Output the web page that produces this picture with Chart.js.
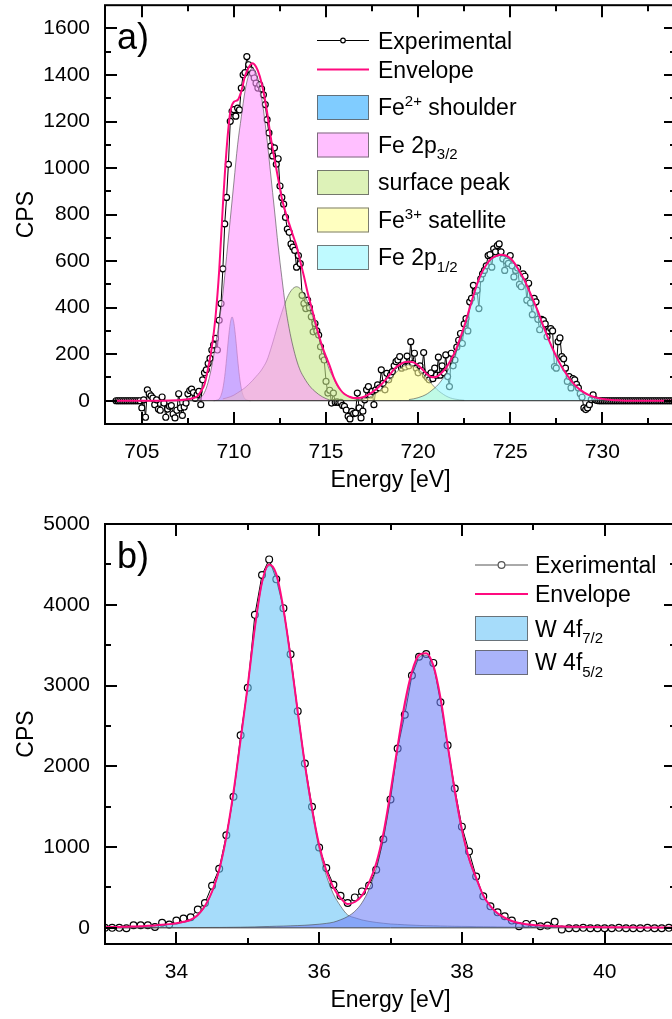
<!DOCTYPE html>
<html>
<head>
<meta charset="utf-8">
<title>XPS Fe 2p and W 4f</title>
<script src="https://cdn.jsdelivr.net/npm/chart.js@4.4.1/dist/chart.umd.min.js"></script>
<style>
  html, body { margin: 0; padding: 0; background: #fff; overflow: hidden; }
  body { width: 672px; height: 1019px; position: relative; }
  canvas { position: absolute; left: 0; }
  #chartA { top: 0; }
  #chartB { top: 500px; }
</style>
</head>
<body>
<canvas id="chartA" width="690" height="500"></canvas>
<canvas id="chartB" width="690" height="519"></canvas>
<script>
// ---------- panel a) Fe 2p ----------
const aExpStart = 703.6;
const aExpStep = 0.1;
const aExpCps = [
  0, 0, 0, 0, 0, 0, 0, 0, 0, 0, 0, 0, 0, 0,
  -31, 4, -71, 47, 30, 21, 11, -17, 4, -36,
  -41, 16, -10, -71, -36, -24, -21, -57, -74, -41,
  30, -31, -63, -27, -10, 30, 44, 50, 35, 10,
  26, 40, -17, 90, 120, 133, 160, 182, 218, 240,
  268, 218, 346, 418, 567, 760, 874, 1016, 1201, 1244,
  1251, 1223, 1258, 1250, 1344, 1401, 1410, 1479, 1444, 1422,
  1408, 1387, 1365, 1344, 1358, 1340, 1315, 1273, 1208, 1151,
  1094, 1052, 1087, 1016, 1040, 923, 874, 845, 788, 738,
  724, 674, 660, 646, 574, 624, 589, 453, 418, 396,
  432, 400, 361, 296, 332, 300, 282, 232, 189, 175,
  83, 33, 45, -10, 33, -7, -5, -8, -7, -20,
  -24, -40, -67, -78, -46, -55, -53, 33, -31, -74,
  -45, 4, 47, 61, 25, 40, -17, 47, 68, 55,
  133, 75, 47, 118, 90, 110, 125, 150, 168, 175,
  190, 140, 150, 145, 192, 150, 254, 160, 204, 140,
  120, 150, 130, 207, 110, 100, 90, 120, 95, 140,
  110, 187, 110, 150, 120, 197, 104, 61, 204, 150,
  175, 230, 260, 289, 246, 330, 353, 300, 425, 440,
  496, 470, 475, 396, 524, 545, 560, 580, 624, 628,
  574, 653, 640, 667, 674, 640, 610, 560, 600, 590,
  624, 580, 532, 560, 570, 500, 490, 545, 535, 432,
  505, 420, 370, 440, 425, 350, 305, 350, 345, 330,
  275, 300, 310, 300, 147, 140, 254, 270, 190, 180,
  140, 83, 104, 55, 95, 90, 70, 55, 30, 15,
  -31, -38, -31, -17, 5, 25, 5, 1, 0, 0,
  0, 0, 0, 0, 0, 0, 0, 0, 0, 0,
  0, 0, 0, 0, 0, 0, 0, 0, 0, 0,
  0, 0, 0, 0, 0, 0, 0, 0, 0, 0,
  0, 0, 0, 0, 0, 0, 0, 0, 0, 0,
  0
];

const aEnvEnergy = [
  703.6, 706.0, 707.0, 707.4, 707.8,
  708.0, 708.2, 708.4, 708.6, 708.8, 709.0, 709.2, 709.4, 709.6, 709.8,
  710.0, 710.2, 710.4, 710.6, 710.8, 711.0, 711.2, 711.4, 711.6, 711.8,
  712.0, 712.2, 712.4, 712.6, 712.8, 713.0, 713.2, 713.4, 713.6, 713.8,
  714.0, 714.2, 714.4, 714.6, 714.8, 715.0, 715.2, 715.4, 715.6, 715.8,
  716.0, 716.25, 716.5, 716.75, 717.0, 717.25, 717.5, 717.75,
  718.0, 718.25, 718.5, 718.75, 719.0, 719.25, 719.5, 719.75,
  720.0, 720.25, 720.5, 720.75, 721.0, 721.25, 721.5, 721.75,
  722.0, 722.25, 722.5, 722.75, 723.0, 723.25, 723.5, 723.75,
  724.0, 724.25, 724.5, 724.75, 725.0, 725.25, 725.5, 725.75,
  726.0, 726.25, 726.5, 726.75, 727.0, 727.25, 727.5, 727.75,
  728.0, 728.25, 728.5, 728.75, 729.0, 729.25, 729.5, 729.75,
  730.0, 730.25, 730.5, 730.75, 731.0, 731.5, 734.0
];
const aEnvCps = [
  0, 0, 2, 5, 12,
  18, 40, 70, 140, 230, 360, 560, 840, 1080, 1240,
  1285, 1292, 1330, 1395, 1432, 1450, 1435, 1395, 1330, 1240,
  1132, 1040, 955, 870, 810, 760, 712, 665, 600, 535,
  465, 405, 345, 285, 232, 190, 150, 104, 70, 45,
  29, 18, 12, 12, 15, 24, 36, 52,
  70, 92, 116, 140, 155, 166, 168, 165,
  152, 133, 113, 101, 103, 118, 140, 172,
  210, 262, 320, 385, 452, 512, 557, 590,
  612, 622, 627, 624, 612, 589, 557, 522,
  478, 432, 385, 330, 280, 233, 190, 152,
  120, 92, 68, 50, 36, 25, 17, 12,
  8, 5, 3, 2, 1, 0, 0
];

const aBaseEnergy = [703.6, 734.0];
const aBaseCps = [0, 0];

// fitted components
const aShoulderStart = 708.9, aShoulderStep = 0.1;
const aShoulderCps = [0, 1, 3, 8, 23, 53, 105, 180, 265, 333, 360, 333, 265, 180, 105, 53, 23, 8, 3, 1, 0];

const aP32Start = 708.0, aP32Step = 0.2;
const aP32Cps = [
  5, 14, 35, 80, 150, 240, 340, 460, 620, 780,
  940, 1100, 1220, 1330, 1400, 1430, 1410, 1350, 1250, 1120,
  970, 820, 665, 530, 405, 310, 235, 175, 130, 100,
  75, 55, 40, 27, 17, 9, 3, 0
];

const aSurfStart = 709.4, aSurfStep = 0.2;
const aSurfCps = [
  8, 12, 17, 24, 34, 44, 56, 70, 86, 104,
  122, 145, 175, 222, 275, 330, 380, 425, 460, 482,
  490,
  482, 460, 425, 380, 330, 275, 222, 175, 130, 100,
  65, 45, 30, 20, 13, 8, 4, 2, 0
];

const aSatStart = 716.5, aSatStep = 0.25;
const aSatCps = [2, 4, 7, 12, 21, 34, 50, 71, 94, 117, 137, 150, 155, 150, 137, 117, 94, 71, 50, 34, 21, 12, 7, 4, 2];

const aP12Start = 719.5, aP12Step = 0.25;
const aP12Cps = [
  5, 8, 13, 20, 30, 45, 62, 85, 115, 150,
  195, 250, 310, 380, 450, 510, 556, 590, 610, 620,
  625, 622, 610, 588, 557, 522, 478, 432, 385, 330,
  280, 233, 190, 152, 120, 92, 68, 50, 36, 25,
  17, 12, 8, 5, 3, 2, 1, 0
];

const aXMajor = [705, 710, 715, 720, 725, 730];
const aXMinor = [707.5, 712.5, 717.5, 722.5, 727.5, 732.5];
const aYMajor = [0, 200, 400, 600, 800, 1000, 1200, 1400, 1600];
const aYMinor = [100, 300, 500, 700, 900, 1100, 1300, 1500];

// ---------- panel b) W 4f ----------
const bExpStart = 33.0;
const bExpStep = 0.1;
const bExpCps = [
  0, 0, 0, -5, 32, 32, 32, 11, 62, 40,
  90, 115, 131, 226, 308, 522, 731, 1147, 1623, 2383,
  2972, 3875, 4369, 4562, 4315, 3958, 3386, 2683, 2034, 1500,
  994, 740, 534, 398, 308, 377, 451, 525, 719, 1097,
  1590, 2219, 2638, 3123, 3357, 3390, 3280, 2794, 2260, 1726,
  1253, 945, 636, 390, 266, 192, 143, 90, 20, 49,
  49, 20, 28, 74, -21, -5, -5, 0, -5, -5,
  -5, -5, 0, -5, -5, -5, 0, -5, -5, 0,
  0
];
const bEnvCps = [
  8, 10, 12, 14, 17, 20, 25, 30, 37, 46,
  58, 75, 100, 160, 270, 450, 720, 1130, 1680, 2330,
  3000, 3720, 4280, 4500, 4380, 3950, 3350, 2680, 2030, 1480,
  1030, 710, 500, 370, 295, 320, 400, 560, 800, 1170,
  1680, 2250, 2780, 3170, 3380, 3400, 3250, 2850, 2270, 1700,
  1220, 860, 620, 400, 270, 180, 125, 85, 60, 45,
  36, 30, 25, 21, 18, 15, 13, 11, 10, 9,
  8, 7, 7, 6, 6, 5, 5, 5, 4, 4,
  4
];
const bW72Cps = [
  6, 8, 10, 12, 15, 18, 22, 27, 34, 42,
  53, 68, 93, 152, 262, 440, 708, 1115, 1662, 2322,
  2990, 3708, 4265, 4483, 4360, 3925, 3325, 2650, 2000, 1440,
  980, 650, 420, 270, 160, 125, 98, 80, 67, 57,
  48, 43, 38, 34, 30, 27, 25, 23, 21, 19,
  18, 17, 15, 14, 13, 12, 11, 10, 10, 9,
  8, 8, 7, 7, 7, 6, 6, 6, 5, 5,
  4, 4, 4, 4, 3, 3, 3, 3, 3, 2,
  2
];
const bW52Cps = [
  2, 2, 2, 2, 2, 2, 2, 3, 3, 3,
  3, 3, 4, 4, 4, 5, 5, 6, 7, 8,
  10, 12, 15, 17, 20, 22, 25, 28, 32, 38,
  45, 55, 70, 100, 140, 205, 310, 480, 735, 1110,
  1630, 2210, 2745, 3140, 3350, 3375, 3225, 2830, 2250, 1680,
  1200, 842, 600, 400, 265, 170, 115, 80, 55, 40,
  30, 25, 20, 17, 14, 12, 10, 9, 8, 7,
  6, 6, 5, 5, 4, 4, 4, 4, 3, 3,
  3
];
const bBaseEnergy = [33.0, 41.0];
const bBaseCps = [0, 0];

const bXMajor = [34, 36, 38, 40];
const bXMinor = [35, 37, 39];
const bYMajor = [0, 1000, 2000, 3000, 4000, 5000];
const bYMinor = [500, 1500, 2500, 3500, 4500];

// ---------- colours ----------
const FONT = '"Liberation Sans", Arial, Helvetica, sans-serif';
const ENVELOPE = '#ff0a7f';
const OUTLINE = 'rgba(70,70,70,0.75)';
const C_SHOULDER = 'rgba(43,170,255,0.6)';
const C_P32 = 'rgba(255,148,255,0.6)';
const C_SURF = 'rgba(198,233,137,0.6)';
const C_SAT = 'rgba(255,255,150,0.6)';
const C_P12 = 'rgba(148,247,255,0.6)';
const C_W72 = 'rgba(107,197,247,0.6)';
const C_W52 = 'rgba(113,130,247,0.6)';

Chart.defaults.font.family = FONT;
Chart.defaults.color = '#000';

const onGrid = (start, step, ys) => ys.map((y, i) => ({ x: +(start + i * step).toFixed(3), y }));
const paired = (xs, ys) => xs.map((x, i) => ({ x, y: ys[i] }));

function drawRich(ctx, x, y, parts) {
  let cx = x;
  parts.forEach(p => {
    const small = p.sup || p.sub;
    ctx.font = (small ? 15 : 23) + 'px ' + FONT;
    const dy = p.sup ? -9 : (p.sub ? 6.5 : 0);
    ctx.fillText(p.t, cx, y + dy);
    cx += ctx.measureText(p.t).width;
  });
}

// frame with inward ticks, axis titles, panel letter and legend
const decor = {
  id: 'decor',
  afterDraw(chart, args, o) {
    const { ctx, chartArea: a } = chart;
    const x = chart.scales.x, y = chart.scales.y;
    ctx.save();
    ctx.strokeStyle = '#000';
    ctx.lineWidth = 2;
    ctx.strokeRect(a.left, a.top, a.right - a.left, a.bottom - a.top);
    ctx.beginPath();
    const xt = (vals, len) => vals.forEach(v => {
      const px = Math.round(x.getPixelForValue(v));
      ctx.moveTo(px, a.bottom); ctx.lineTo(px, a.bottom - len);
      ctx.moveTo(px, a.top); ctx.lineTo(px, a.top + len);
    });
    const yt = (vals, len) => vals.forEach(v => {
      const py = Math.round(y.getPixelForValue(v));
      ctx.moveTo(a.left, py); ctx.lineTo(a.left + len, py);
      ctx.moveTo(a.right, py); ctx.lineTo(a.right - len, py);
    });
    xt(o.xMajor, 12); xt(o.xMinor, 6);
    yt(o.yMajor, 12); yt(o.yMinor, 6);
    ctx.stroke();

    // axis titles
    ctx.fillStyle = '#000';
    ctx.font = '23px ' + FONT;
    ctx.textAlign = 'center';
    ctx.textBaseline = 'alphabetic';
    ctx.fillText(o.xTitle, (a.left + a.right) / 2, a.bottom + 63);
    ctx.save();
    ctx.translate(33, (a.top + a.bottom) / 2);
    ctx.rotate(-Math.PI / 2);
    ctx.fillText(o.yTitle, 0, 0);
    ctx.restore();

    // panel letter
    ctx.textAlign = 'left';
    ctx.font = '36px ' + FONT;
    ctx.fillText(o.panel, 117, o.panelY);

    // legend
    const L = o.legend;
    L.items.forEach(it => {
      if (it.kind === 'line') {
        ctx.strokeStyle = it.color;
        ctx.lineWidth = it.width;
        ctx.beginPath();
        ctx.moveTo(L.x0, it.y); ctx.lineTo(L.x1, it.y);
        ctx.stroke();
        if (it.marker) {
          ctx.beginPath();
          ctx.arc((L.x0 + L.x1) / 2, it.y, it.marker, 0, Math.PI * 2);
          ctx.fillStyle = '#fff';
          ctx.fill();
          ctx.lineWidth = 1.2;
          ctx.stroke();
        }
      } else {
        ctx.fillStyle = it.color;
        ctx.fillRect(L.x0, it.top, L.x1 - L.x0, 25);
        ctx.strokeStyle = 'rgba(90,90,90,0.8)';
        ctx.lineWidth = 1;
        ctx.strokeRect(L.x0 + 0.5, it.top + 0.5, L.x1 - L.x0 - 1, 24);
      }
      ctx.fillStyle = '#000';
      drawRich(ctx, L.tx, it.base, it.parts);
    });
    ctx.restore();
  }
};

function fitted(label, data, color, order) {
  return {
    label, data, order,
    backgroundColor: color,
    borderColor: OUTLINE,
    borderWidth: 0.8,
    pointRadius: 0,
    fill: 'origin',
    cubicInterpolationMode: 'monotone'
  };
}

function scalesFor(xMin, xMax, xTicks, yMin, yMax, yTicks, xHeight) {
  return {
    x: {
      type: 'linear', min: xMin, max: xMax,
      grid: { display: false, drawTicks: false },
      border: { display: false },
      afterBuildTicks: s => { s.ticks = xTicks.map(v => ({ value: v })); },
      afterFit: s => { s.height = xHeight; s.paddingLeft = 0; s.paddingRight = 0; },
      ticks: { padding: 16, maxRotation: 0, autoSkip: false, font: { size: 21 }, callback: v => String(v) }
    },
    y: {
      min: yMin, max: yMax,
      grid: { display: false, drawTicks: false },
      border: { display: false },
      afterBuildTicks: s => { s.ticks = yTicks.map(v => ({ value: v })); },
      afterFit: s => { s.width = 105; s.paddingTop = 0; s.paddingBottom = 0; },
      ticks: { padding: 15, autoSkip: false, font: { size: 21 }, callback: v => String(v) }
    }
  };
}

// ---------- chart a ----------
new Chart(document.getElementById('chartA'), {
  type: 'line',
  data: {
    datasets: [
      { label: 'Envelope', data: paired(aEnvEnergy, aEnvCps), borderColor: ENVELOPE, borderWidth: 2, pointRadius: 0, cubicInterpolationMode: 'monotone', fill: false, order: 0 },
      { label: 'Background', data: paired(aBaseEnergy, aBaseCps), borderColor: '#222', borderWidth: 1, pointRadius: 0, fill: false, order: 1 },
      fitted('Fe 2p3/2', onGrid(aP32Start, aP32Step, aP32Cps), C_P32, 2),
      fitted('Fe 2p1/2', onGrid(aP12Start, aP12Step, aP12Cps), C_P12, 3),
      fitted('Fe3+ satellite', onGrid(aSatStart, aSatStep, aSatCps), C_SAT, 4),
      fitted('surface peak', onGrid(aSurfStart, aSurfStep, aSurfCps), C_SURF, 5),
      fitted('Fe2+ shoulder', onGrid(aShoulderStart, aShoulderStep, aShoulderCps), C_SHOULDER, 6),
      { label: 'Experimental', data: onGrid(aExpStart, aExpStep, aExpCps), borderColor: '#000', borderWidth: 1, pointRadius: 3, pointBorderWidth: 1.2, pointBackgroundColor: '#fff', pointBorderColor: '#000', fill: false, order: 7 }
    ]
  },
  options: {
    responsive: false,
    animation: false,
    events: [],
    layout: { padding: { top: 3, right: 14, left: 0, bottom: 0 } },
    scales: scalesFor(703, 734, aXMajor, -100, 1700, aYMajor, 76),
    plugins: {
      legend: { display: false },
      tooltip: { enabled: false },
      decor: {
        xMajor: aXMajor, xMinor: aXMinor, yMajor: aYMajor, yMinor: aYMinor,
        xTitle: 'Energy [eV]', yTitle: 'CPS', panel: 'a)', panelY: 49,
        legend: {
          x0: 317, x1: 369, tx: 378,
          items: [
            { kind: 'line', y: 40.5, color: '#000', width: 1, marker: 2.3, base: 49, parts: [{ t: 'Experimental' }] },
            { kind: 'line', y: 69.5, color: ENVELOPE, width: 2, base: 77.5, parts: [{ t: 'Envelope' }] },
            { kind: 'box', top: 95, color: C_SHOULDER, base: 115, parts: [{ t: 'Fe' }, { t: '2+', sup: true }, { t: ' shoulder' }] },
            { kind: 'box', top: 132.5, color: C_P32, base: 152.5, parts: [{ t: 'Fe 2p' }, { t: '3/2', sub: true }] },
            { kind: 'box', top: 170, color: C_SURF, base: 190, parts: [{ t: 'surface peak' }] },
            { kind: 'box', top: 207.5, color: C_SAT, base: 227.5, parts: [{ t: 'Fe' }, { t: '3+', sup: true }, { t: ' satellite' }] },
            { kind: 'box', top: 245, color: C_P12, base: 265, parts: [{ t: 'Fe 2p' }, { t: '1/2', sub: true }] }
          ]
        }
      }
    }
  },
  plugins: [decor]
});

// ---------- chart b ----------
new Chart(document.getElementById('chartB'), {
  type: 'line',
  data: {
    datasets: [
      { label: 'Envelope', data: onGrid(bExpStart, bExpStep, bEnvCps), borderColor: ENVELOPE, borderWidth: 2, pointRadius: 0, cubicInterpolationMode: 'monotone', fill: false, order: 0 },
      { label: 'Background', data: paired(bBaseEnergy, bBaseCps), borderColor: '#444', borderWidth: 1, pointRadius: 0, fill: false, order: 1 },
      fitted('W 4f5/2', onGrid(bExpStart, bExpStep, bW52Cps), C_W52, 2),
      fitted('W 4f7/2', onGrid(bExpStart, bExpStep, bW72Cps), C_W72, 3),
      { label: 'Exerimental', data: onGrid(bExpStart, bExpStep, bExpCps), borderColor: '#000', borderWidth: 1, pointRadius: 3.4, pointBorderWidth: 1.2, pointBackgroundColor: '#fff', pointBorderColor: '#000', fill: false, order: 4 }
    ]
  },
  options: {
    responsive: false,
    animation: false,
    events: [],
    layout: { padding: { top: 24, right: 14, left: 0, bottom: 0 } },
    scales: scalesFor(33, 41, bXMajor, -200, 5000, bYMajor, 75),
    plugins: {
      legend: { display: false },
      tooltip: { enabled: false },
      decor: {
        xMajor: bXMajor, xMinor: bXMinor, yMajor: bYMajor, yMinor: bYMinor,
        xTitle: 'Energy [eV]', yTitle: 'CPS', panel: 'b)', panelY: 68,
        legend: {
          x0: 475, x1: 528, tx: 535,
          items: [
            { kind: 'line', y: 65, color: '#555', width: 1, marker: 3.4, base: 72.5, parts: [{ t: 'Exerimental' }] },
            { kind: 'line', y: 94, color: ENVELOPE, width: 2, base: 101.5, parts: [{ t: 'Envelope' }] },
            { kind: 'box', top: 116, color: C_W72, base: 136.5, parts: [{ t: 'W 4f' }, { t: '7/2', sub: true }] },
            { kind: 'box', top: 150, color: C_W52, base: 170, parts: [{ t: 'W 4f' }, { t: '5/2', sub: true }] }
          ]
        }
      }
    }
  },
  plugins: [decor]
});
</script>
</body>
</html>
